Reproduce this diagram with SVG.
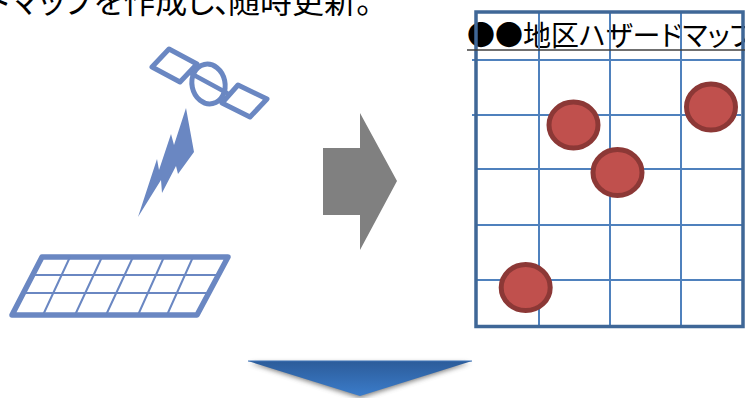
<svg xmlns="http://www.w3.org/2000/svg" width="745" height="398" viewBox="0 0 745 398">
<style>
text{font-family:"Noto Sans CJK JP","Liberation Sans",sans-serif;fill:#000;font-feature-settings:"palt"}
.b{fill:none;stroke:#6a87c2;stroke-linejoin:round;stroke-linecap:round}
.g{stroke:#4f81bd;stroke-width:2;fill:none}
.c{fill:#c0504d;stroke:#8c3836;stroke-width:5}
</style>
<defs>
<linearGradient id="tri" x1="0" y1="0" x2="0" y2="1"><stop offset="0" stop-color="#2c5c9a"/><stop offset="1" stop-color="#3b7cca"/></linearGradient>
<filter id="sh" x="-10%" y="-30%" width="120%" height="170%"><feGaussianBlur stdDeviation="2.5"/></filter>
</defs>
<rect width="745" height="398" fill="#fff"/>
<g id="caption"><text y="13" font-size="32"><tspan x="-15">ドマップを作成し、</tspan><tspan x="228">随時更新。</tspan></text></g>
<g id="satellite">
<path class="b" stroke-width="5" d="M169 49L197 64L180 82L152 67Z"/>
<path class="b" stroke-width="5" d="M238 85L267 99L250 117L222 103Z"/>
<ellipse class="b" stroke-width="5" cx="208.500" cy="84" rx="16.500" ry="20" transform="rotate(-12 208.500 84)"/>
<path class="b" stroke-width="4.500" d="M192 74L227 93"/>
</g>
<g id="lightning"><path fill="#6a87c2" d="M186 108L194 152L178 174L176 166L162 193L161 180L138 217L157 159L159 170L171 134L174 145Z"/></g>
<g id="panel">
<path class="b" stroke-width="5.500" d="M42 257H228L197 315H12Z"/>
<path class="b" stroke-width="2" stroke-linecap="butt" d="M33 275H219M23 293H209M70 257L43 315M102 257L75 315M133 257L106 315M164 257L138 315M193 257L167 315"/>
</g>
<g id="arrow-right"><path fill="#808080" d="M323 148H360V113L397 181L360 250V215H323Z"/></g>
<g id="hazard-map">
<text x="467" y="46" font-size="28">●●地区ハザードマップ</text>
<path class="g" d="M539 12V327M610 12V327M681 12V327M472 60H741M472 115H741M475 169H743M475 225H743M475 280H743"/>
<path fill="none" stroke="#3f6797" stroke-width="3.500" d="M476 12H743V326.500H476Z"/>
<path stroke="#404040" stroke-width="1.500" d="M467 50H745"/>
<ellipse class="c" cx="573.500" cy="125" rx="24.500" ry="23"/>
<ellipse class="c" cx="711" cy="107" rx="24.500" ry="23"/>
<ellipse class="c" cx="617.500" cy="172.500" rx="24.500" ry="23"/>
<ellipse class="c" cx="525.700" cy="287.500" rx="24.500" ry="23"/>
</g>
<g id="arrow-down">
<path d="M250 363L470 363L360 398Z" fill="#555" opacity=".75" filter="url(#sh)"/>
<path d="M248 361H472L360 396Z" fill="url(#tri)"/>
<path d="M248 361H472" stroke="#3f74b8" stroke-width="1"/>
</g>
</svg>
